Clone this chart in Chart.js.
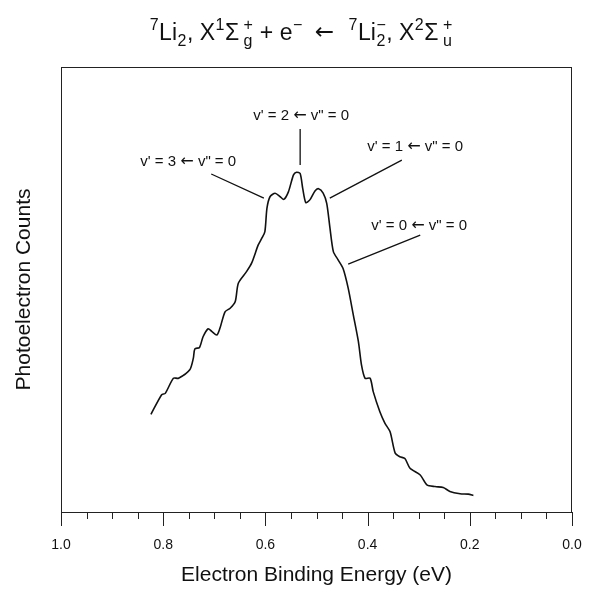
<!DOCTYPE html>
<html>
<head>
<meta charset="utf-8">
<script src="https://cdn.jsdelivr.net/npm/chart.js@4.4.1/dist/chart.umd.min.js"></script>
<style>
  html, body { margin: 0; padding: 0; background: #fff; overflow: hidden; }
  #wrap { width: 592px; height: 590px; }
</style>
</head>
<body>
<div id="wrap"><canvas id="pesChart"></canvas></div>
<script>
// Spectre : énergie de liaison (eV) et comptage (unités arbitraires)
const energy = [
  0.824, 0.803, 0.796, 0.780, 0.770, 0.748, 0.741, 0.738, 0.729, 0.722,
  0.712, 0.705, 0.695, 0.689, 0.679, 0.669, 0.659, 0.653, 0.637, 0.627,
  0.614, 0.607, 0.601, 0.597, 0.591, 0.581, 0.571, 0.564, 0.555, 0.545,
  0.539, 0.532, 0.527, 0.521, 0.513, 0.503, 0.496, 0.487, 0.480, 0.474,
  0.467, 0.458, 0.448, 0.438, 0.428, 0.418, 0.412, 0.405, 0.395, 0.389,
  0.376, 0.366, 0.356, 0.346, 0.337, 0.327, 0.317, 0.297, 0.284, 0.268,
  0.252, 0.239, 0.219, 0.203, 0.193
];
const counts = [
  22.3, 26.7, 27.0, 30.4, 30.4, 32.3, 34.9, 37.0, 37.3, 39.7,
  41.5, 40.9, 40.1, 41.6, 45.3, 46.1, 47.6, 51.7, 54.3, 56.2,
  60.3, 61.8, 63.3, 68.5, 71.1, 71.9, 71.1, 70.5, 72.2, 76.0,
  76.6, 76.3, 73.0, 69.8, 70.4, 72.4, 72.9, 71.9, 69.6, 64.4,
  58.8, 57.0, 55.0, 50.6, 44.6, 38.6, 33.4, 30.4, 30.4, 27.4,
  22.9, 20.3, 18.4, 13.6, 12.8, 12.4, 10.2, 8.7, 6.5, 6.1,
  5.9, 5.0, 4.5, 4.4, 4.1
];
const xTickLabels = ['0.0', '0.2', '0.4', '0.6', '0.8', '1.0'];

// Étiquettes des transitions vibrationnelles (texte + trait de rappel, en unités de données)
const upperV = ['3', '2', '1', '0'];
const labelAt = [[0.751, 78.9], [0.530, 89.2], [0.307, 82.2], [0.299, 64.5]];
const leaderFrom = [[0.706, 76.2], [0.532, 86.3], [0.333, 79.3], [0.297, 62.5]];
const leaderTo = [[0.603, 70.8], [0.532, 78.2], [0.474, 70.8], [0.438, 56.0]];

const FONT = '"Liberation Sans", Arial, Helvetica, sans-serif';
const ARROW_FONT = '"DejaVu Sans", sans-serif';

// Titre avec exposants / indices
const titleParts = [
  { sup: '7' }, { t: 'Li' }, { sub: '2' }, { t: ', X' }, { sup: '1' }, { t: '\u03A3' }, { gap: 4 },
  { sup: '+', sub: 'g' }, { t: ' + e' }, { sup: '\u2212' }, { gap: 12 }, { arrow: '\u2190' }, { gap: 14 },
  { sup: '7' }, { t: 'Li' }, { sup: '\u2212', sub: '2' }, { t: ', X' }, { sup: '2' }, { t: '\u03A3' }, { gap: 4 },
  { sup: '+', sub: 'u' }
];

const titlePlugin = {
  id: 'richTitle',
  afterDraw(chart) {
    const ctx = chart.ctx;
    const big = '23px ' + FONT, small = '16px ' + FONT, arrow = '23px ' + ARROW_FONT;
    const widthOf = p => {
      if (p.gap) return p.gap;
      if (p.t) { ctx.font = big; return ctx.measureText(p.t).width; }
      if (p.arrow) { ctx.font = arrow; return ctx.measureText(p.arrow).width; }
      ctx.font = small;
      return Math.max(p.sup ? ctx.measureText(p.sup).width : 0, p.sub ? ctx.measureText(p.sub).width : 0) + 1;
    };
    ctx.save();
    let total = 0;
    titleParts.forEach(p => total += widthOf(p));
    let x = 301 - total / 2;
    const base = 40;
    ctx.fillStyle = '#111';
    ctx.textBaseline = 'alphabetic';
    titleParts.forEach(p => {
      const w = widthOf(p);
      if (p.t) {
        ctx.font = big;
        ctx.fillText(p.t, x, base);
      } else if (p.arrow) {
        ctx.font = arrow;
        ctx.fillText(p.arrow, x, base - 1);
      } else if (!p.gap) {
        ctx.font = small;
        if (p.sup) ctx.fillText(p.sup, x + 0.5, base - 10);
        if (p.sub) ctx.fillText(p.sub, x + 0.5, base + 6);
      }
      x += w;
    });
    ctx.restore();
  }
};

// "v' = n ← v" = 0" avec une flèche plus large
function drawTransition(ctx, n, cx, cy) {
  const left = "v' = " + n + ' ', right = ' v" = 0';
  const txt = '15px ' + FONT, arr = '16px ' + ARROW_FONT;
  ctx.font = txt;
  const wl = ctx.measureText(left).width, wr = ctx.measureText(right).width;
  ctx.font = arr;
  const wa = ctx.measureText('\u2190').width;
  let x = cx - (wl + wa + wr) / 2;
  ctx.font = txt;
  ctx.fillText(left, x, cy);
  x += wl;
  ctx.font = arr;
  ctx.fillText('\u2190', x, cy);
  x += wa;
  ctx.font = txt;
  ctx.fillText(right, x, cy);
}

const framePlugin = {
  id: 'frame',
  afterDraw(chart) {
    const { ctx, chartArea: a, scales: { x, y } } = chart;
    ctx.save();
    ctx.strokeStyle = '#222';
    ctx.lineWidth = 1;
    ctx.strokeRect(a.left + 0.5, a.top + 0.5, a.right - a.left - 1, a.bottom - a.top);
    // graduations : mineures tous les 0.05, majeures tous les 0.2
    ctx.beginPath();
    for (let i = 0; i <= 20; i++) {
      const px = Math.round(x.getPixelForValue(i * 0.05)) + 0.5;
      const len = i % 4 === 0 ? 14 : 7;
      ctx.moveTo(px, a.bottom);
      ctx.lineTo(px, a.bottom + len);
    }
    ctx.stroke();

    // étiquettes des transitions
    ctx.fillStyle = '#111';
    ctx.textAlign = 'left';
    ctx.textBaseline = 'middle';
    upperV.forEach((n, i) => {
      drawTransition(ctx, n, x.getPixelForValue(labelAt[i][0]), y.getPixelForValue(labelAt[i][1]));
    });
    ctx.lineWidth = 1.3;
    ctx.strokeStyle = '#111';
    ctx.beginPath();
    leaderFrom.forEach((p, i) => {
      ctx.moveTo(x.getPixelForValue(p[0]), y.getPixelForValue(p[1]));
      ctx.lineTo(x.getPixelForValue(leaderTo[i][0]), y.getPixelForValue(leaderTo[i][1]));
    });
    ctx.stroke();
    ctx.restore();
  }
};

const ctx = document.getElementById('pesChart').getContext('2d');
new Chart(ctx, {
  type: 'line',
  data: {
    datasets: [{
      data: energy.map((e, i) => ({ x: e, y: counts[i] })),
      borderColor: '#111',
      borderWidth: 1.6,
      pointRadius: 0,
      tension: 0.25,
      fill: false
    }]
  },
  options: {
    responsive: true,
    maintainAspectRatio: false,
    animation: false,
    layout: { padding: { top: 67, right: 20, left: 0, bottom: 0 } },
    plugins: {
      legend: { display: false },
      tooltip: { enabled: false }
    },
    scales: {
      x: {
        type: 'linear',
        min: 0,
        max: 1,
        reverse: true,
        afterFit: s => { s.height = 78; },
        // les graduations sont tracées par le plugin ; tickLength sert seulement à décaler les libellés
        grid: { display: false, drawTicks: true, tickLength: 23 },
        border: { display: false },
        ticks: {
          stepSize: 0.2,
          padding: 2,
          color: '#111',
          font: { family: FONT, size: 14 },
          maxRotation: 0,
          callback: v => xTickLabels[Math.round(v * 5)]
        },
        title: {
          display: true,
          text: 'Electron Binding Energy (eV)',
          color: '#111',
          font: { family: FONT, size: 21 },
          padding: { top: 0, bottom: 2 }
        }
      },
      y: {
        min: 0.4,
        max: 100.2,
        afterFit: s => { s.width = 61; },
        grid: { display: false, drawTicks: false },
        border: { display: false },
        ticks: { display: false },
        title: {
          display: true,
          text: 'Photoelectron Counts',
          color: '#111',
          font: { family: FONT, size: 21 },
          padding: { top: 12, bottom: 0 }
        }
      }
    }
  },
  plugins: [titlePlugin, framePlugin]
});
</script>
</body>
</html>
